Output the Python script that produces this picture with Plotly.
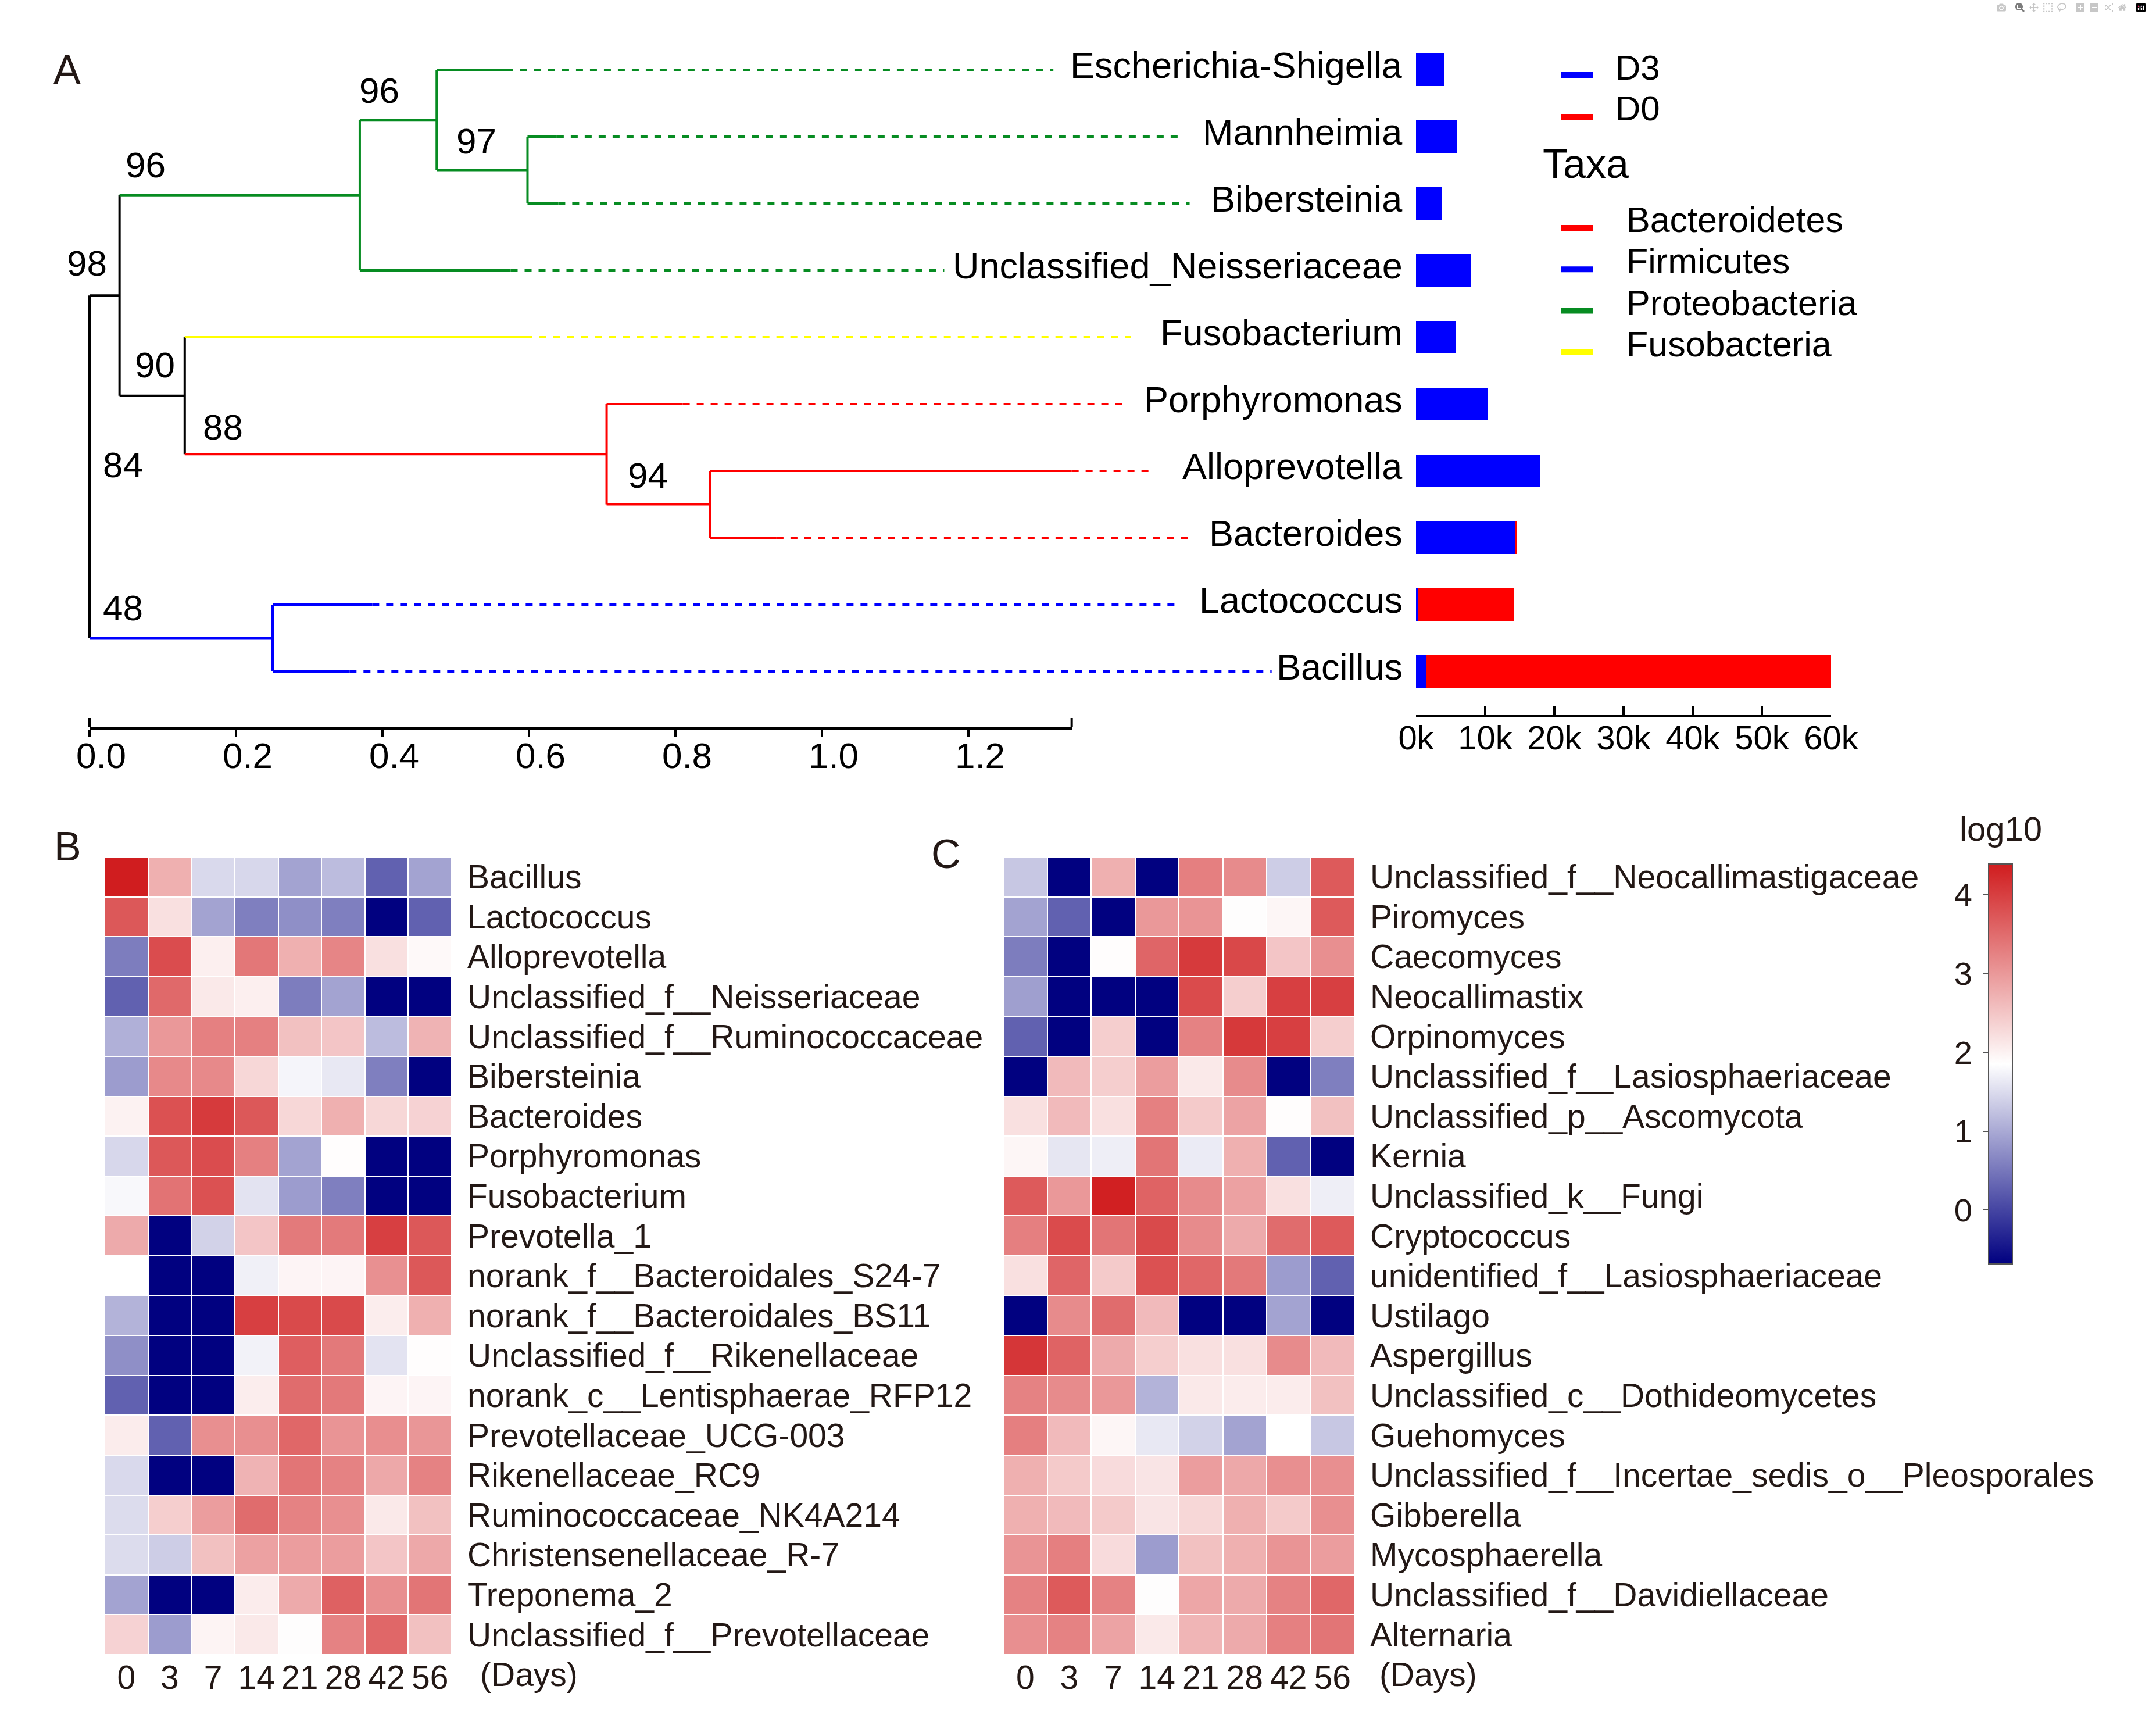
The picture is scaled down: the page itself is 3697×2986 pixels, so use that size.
import plotly.graph_objects as go

W, H = 3697, 2986
FONT = "Arial, 'Liberation Sans', Helvetica, sans-serif"
TXT = "#231815"

# ---------------- Panel A data ----------------
leaf_names = ["Escherichia-Shigella", "Mannheimia", "Bibersteinia", "Unclassified_Neisseriaceae",
              "Fusobacterium", "Porphyromonas", "Alloprevotella", "Bacteroides",
              "Lactococcus", "Bacillus"]
leaf_parent = ["n3", "n4", "n4", "n2", "n5", "n6", "n7", "n7", "n8", "n8"]
leaf_phylum = ["Proteobacteria", "Proteobacteria", "Proteobacteria", "Proteobacteria",
               "Fusobacteria", "Bacteroidetes", "Bacteroidetes", "Bacteroidetes",
               "Firmicutes", "Firmicutes"]
leaf_branch_end = [0.569, 0.638, 0.640, 0.575, 0.595, 0.810, 1.341, 0.938, 0.386, 0.355]
leaf_guide_end = [1.316, 1.490, 1.502, 1.167, 1.422, 1.415, 1.453, 1.502, 1.484, 1.614]

node_names = ["root", "n1", "n2", "n3", "n4", "n5", "n6", "n7", "n8"]
node_parent = [None, "root", "n1", "n2", "n3", "n1", "n5", "n6", "root"]
node_depth = [0.0, 0.041, 0.369, 0.474, 0.598, 0.130, 0.706, 0.847, 0.250]
node_group = ["none", "none", "Proteobacteria", "Proteobacteria", "Proteobacteria",
              "none", "Bacteroidetes", "Bacteroidetes", "Firmicutes"]
node_support = [84, 98, 96, 96, 97, 90, 88, 94, 48]

tree_scale_max = 1.341
tree_ticks = [0.0, 0.2, 0.4, 0.6, 0.8, 1.0, 1.2]

abund_d3 = [4100, 5900, 3800, 8000, 5800, 10400, 18000, 14400, 250, 1400]
abund_d0 = [0, 0, 0, 0, 0, 0, 0, 150, 13850, 58600]
bar_ticks = [0, 10000, 20000, 30000, 40000, 50000, 60000]
bar_ticktext = ["0k", "10k", "20k", "30k", "40k", "50k", "60k"]

phyla = ["Bacteroidetes", "Firmicutes", "Proteobacteria", "Fusobacteria"]

# ---------------- Panels B / C data ----------------
days = ["0", "3", "7", "14", "21", "28", "42", "56"]

bact_taxa = ["Bacillus", "Lactococcus", "Alloprevotella", "Unclassified_f__Neisseriaceae",
             "Unclassified_f__Ruminococcaceae", "Bibersteinia", "Bacteroides", "Porphyromonas",
             "Fusobacterium", "Prevotella_1", "norank_f__Bacteroidales_S24-7",
             "norank_f__Bacteroidales_BS11", "Unclassified_f__Rikenellaceae",
             "norank_c__Lentisphaerae_RFP12", "Prevotellaceae_UCG-003", "Rikenellaceae_RC9",
             "Ruminococcaceae_NK4A214", "Christensenellaceae_R-7", "Treponema_2",
             "Unclassified_f__Prevotellaceae"]
bact_log10 = [
    [4.38, 2.74, 1.47, 1.45, 0.94, 1.19, 0.28, 0.94],
    [3.72, 2.20, 0.94, 0.58, 0.74, 0.58, -0.68, 0.28],
    [0.56, 3.85, 2.03, 3.37, 2.74, 3.22, 2.20, 1.92],
    [0.28, 3.53, 2.10, 2.03, 0.56, 0.94, -0.68, -0.68],
    [1.07, 3.00, 3.27, 3.27, 2.55, 2.50, 1.19, 2.70],
    [0.87, 3.17, 3.17, 2.30, 1.75, 1.62, 0.58, -0.68],
    [2.00, 3.80, 4.05, 3.72, 2.30, 2.74, 2.30, 2.35],
    [1.45, 3.72, 3.85, 3.27, 0.94, 1.87, -0.68, -0.68],
    [1.78, 3.42, 3.80, 1.57, 0.87, 0.58, -0.68, -0.68],
    [2.80, -0.68, 1.40, 2.50, 3.34, 3.34, 4.00, 3.72],
    [1.85, -0.68, -0.68, 1.70, 1.97, 1.97, 3.09, 3.72],
    [1.10, -0.68, -0.68, 4.00, 3.88, 3.88, 2.05, 2.74],
    [0.74, -0.68, -0.68, 1.72, 3.65, 3.35, 1.57, 1.87],
    [0.28, -0.68, -0.68, 2.05, 3.50, 3.35, 1.97, 1.97],
    [2.07, 0.28, 3.10, 3.10, 3.55, 3.05, 3.12, 3.03],
    [1.47, -0.68, -0.68, 2.70, 3.40, 3.25, 2.82, 3.25],
    [1.50, 2.40, 2.95, 3.50, 3.25, 3.10, 2.10, 2.55],
    [1.50, 1.35, 2.55, 2.90, 2.95, 2.95, 2.50, 2.82],
    [0.94, -0.68, -0.68, 2.07, 2.80, 3.62, 3.10, 3.40],
    [2.35, 0.87, 1.98, 2.10, 1.88, 3.25, 3.55, 2.55],
]

fungi_taxa = ["Unclassified_f__Neocallimastigaceae", "Piromyces", "Caecomyces", "Neocallimastix",
              "Orpinomyces", "Unclassified_f__Lasiosphaeriaceae", "Unclassified_p__Ascomycota",
              "Kernia", "Unclassified_k__Fungi", "Cryptococcus", "unidentified_f__Lasiosphaeriaceae",
              "Ustilago", "Aspergillus", "Unclassified_c__Dothideomycetes", "Guehomyces",
              "Unclassified_f__Incertae_sedis_o__Pleosporales", "Gibberella", "Mycosphaerella",
              "Unclassified_f__Davidiellaceae", "Alternaria"]
fungi_log10 = [
    [1.30, -0.68, 2.74, -0.68, 3.28, 3.15, 1.35, 3.70],
    [0.94, 0.28, -0.68, 3.00, 3.05, 1.88, 1.95, 3.70],
    [0.56, -0.68, 1.87, 3.57, 4.05, 3.90, 2.50, 3.10],
    [0.90, -0.68, -0.68, -0.68, 3.87, 2.40, 4.00, 4.00],
    [0.28, -0.68, 2.40, -0.68, 3.25, 4.07, 4.00, 2.40],
    [-0.68, 2.62, 2.40, 2.95, 2.10, 3.15, -0.68, 0.58],
    [2.20, 2.62, 2.20, 3.27, 2.45, 2.88, 1.87, 2.55],
    [1.95, 1.60, 1.68, 3.40, 1.65, 2.74, 0.28, -0.68],
    [3.70, 3.00, 4.35, 3.60, 3.15, 2.90, 2.20, 1.68],
    [3.28, 3.87, 3.40, 3.88, 3.15, 2.80, 3.50, 3.70],
    [2.20, 3.57, 2.45, 3.80, 3.55, 3.35, 0.87, 0.28],
    [-0.68, 3.15, 3.50, 2.62, -0.68, -0.68, 0.94, -0.68],
    [4.10, 3.60, 2.80, 2.40, 2.20, 2.20, 3.15, 2.62],
    [3.25, 3.15, 3.00, 1.10, 2.10, 2.07, 2.07, 2.55],
    [3.28, 2.62, 1.95, 1.62, 1.40, 0.94, 1.85, 1.30],
    [2.74, 2.45, 2.25, 2.15, 2.95, 2.82, 3.10, 3.10],
    [2.74, 2.62, 2.45, 2.15, 2.30, 2.74, 2.45, 3.10],
    [3.05, 3.28, 2.25, 0.87, 2.55, 2.74, 3.05, 2.95],
    [3.25, 3.70, 3.25, 1.88, 2.85, 2.80, 3.25, 3.55],
    [3.10, 3.25, 2.88, 2.10, 2.68, 2.80, 3.27, 3.40],
]
scale_min, scale_max = -0.685, 4.39
scale_ticks = [0, 1, 2, 3, 4]

# ---------------- styles / layout geometry ----------------
group_color = {"Proteobacteria": "#078c22", "Bacteroidetes": "#ff0000",
               "Firmicutes": "#0000ff", "Fusobacteria": "#ffff00", "none": "#000000"}
D3_COLOR, D0_COLOR = "#0000ff", "#ff0000"


def fx(p):
    return p / W


def fy(p):
    return 1 - p / H


TREE_X0, TREE_PPU, TREE_XMIN, TREE_XMAX = 154, 1260, -0.03, 1.80
ROW0, ROWH = 120, 115
TREE_TOP, TREE_AXIS_PX = 5, 1251
BAR_X0, BAR_X1, BAR_AXIS_PX = 2436, 3150, 1230
HM_TOP, HM_BOT = 1474, 2846
HMB_X = (180, 777)
HMC_X = (1726, 2330)
CB_X, CB_W, CB_TOP, CB_BOT = 3421, 41, 1486, 2174


def tree_px(v):
    return TREE_X0 + v * TREE_PPU


# ---------------- tree geometry from structure ----------------
children = {n: [] for n in node_names}
for i, p in enumerate(leaf_parent):
    children[p].append(("leaf", i))
for n, p in zip(node_names, node_parent):
    if p is not None:
        children[p].append(("node", n))
depth = dict(zip(node_names, node_depth))
ycache = {}


def node_y(kind, key):
    if kind == "leaf":
        return float(key)
    if key in ycache:
        return ycache[key]
    ys = [node_y(k, c) for k, c in children[key]]
    ycache[key] = (min(ys) + max(ys)) / 2
    return ycache[key]


seg_solid = {}
seg_dash = {}


def add(store, col, xs, ys):
    d = store.setdefault(col, ([], []))
    d[0].extend(list(xs) + [None])
    d[1].extend(list(ys) + [None])


for n, p, g in zip(node_names, node_parent, node_group):
    yn = node_y("node", n)
    col = group_color[g]
    if p is not None:
        add(seg_solid, col, [depth[p], depth[n]], [yn, yn])
    ys = [node_y(k, c) for k, c in children[n]]
    add(seg_solid, col, [depth[n], depth[n]], [min(ys), max(ys)])

for i in range(len(leaf_names)):
    col = group_color[leaf_phylum[i]]
    add(seg_solid, col, [depth[leaf_parent[i]], leaf_branch_end[i]], [i, i])
    add(seg_dash, col, [leaf_branch_end[i], leaf_guide_end[i]], [i, i])

fig = go.Figure()
# scale axis anchor trace (drawn first)
fig.add_trace(go.Scatter(x=[0, tree_scale_max], y=[None, None], mode="lines",
                         xaxis="x2", yaxis="y", showlegend=False, hoverinfo="skip"))
for col, (xs, ys) in seg_solid.items():
    fig.add_trace(go.Scatter(x=xs, y=ys, mode="lines", line=dict(color=col, width=4),
                             xaxis="x", yaxis="y", showlegend=False, hoverinfo="skip"))
for col, (xs, ys) in seg_dash.items():
    fig.add_trace(go.Scatter(x=xs, y=ys, mode="lines",
                             line=dict(color=col, width=4, dash="12px,12px"),
                             xaxis="x", yaxis="y", showlegend=False, hoverinfo="skip"))

# bars
rows = list(range(len(leaf_names)))
fig.add_trace(go.Bar(y=rows, x=abund_d3, orientation="h", marker=dict(color=D3_COLOR, line=dict(width=0)),
                     width=0.49, xaxis="x3", yaxis="y3", showlegend=False, name="D3"))
fig.add_trace(go.Bar(y=rows, x=abund_d0, orientation="h", marker=dict(color=D0_COLOR, line=dict(width=0)),
                     width=0.49, xaxis="x3", yaxis="y3", showlegend=False, name="D0"))

# heatmaps
fig.add_trace(go.Heatmap(z=bact_log10, x=days, y=bact_taxa, coloraxis="coloraxis",
                         xgap=2, ygap=2, xaxis="x4", yaxis="y4"))
fig.add_trace(go.Heatmap(z=fungi_log10, x=days, y=fungi_taxa, coloraxis="coloraxis",
                         xgap=2, ygap=2, xaxis="x5", yaxis="y5"))
# colorbar tick axis anchor trace
fig.add_trace(go.Scatter(x=[None], y=[None], mode="lines", xaxis="x6", yaxis="y6",
                         showlegend=False, hoverinfo="skip"))

tree_y_range = [(TREE_AXIS_PX - ROW0) / ROWH, (TREE_TOP - ROW0) / ROWH]
bar_y_range = [(BAR_AXIS_PX - ROW0) / ROWH, (TREE_TOP - ROW0) / ROWH]

hidden = dict(visible=False, showgrid=False, zeroline=False)
hm_y_common = dict(side="right", autorange="reversed", type="category", ticks="",
                   showgrid=False, zeroline=False, showline=False, automargin=False,
                   tickfont=dict(family=FONT, size=57, color=TXT), ticklabelstandoff=26,
                   domain=[fy(HM_BOT), fy(HM_TOP)])
hm_x_common = dict(type="category", ticks="", showgrid=False, zeroline=False, showline=False,
                   automargin=False,
                   tickfont=dict(family=FONT, size=57, color=TXT), ticklabelstandoff=1)

fig.update_layout(
    width=W, height=H, margin=dict(l=0, r=0, t=0, b=0, autoexpand=False),
    paper_bgcolor="white", plot_bgcolor="rgba(0,0,0,0)",
    barmode="stack", showlegend=False,
    font=dict(family=FONT, color="black"),
    xaxis=dict(domain=[fx(tree_px(TREE_XMIN)), fx(tree_px(TREE_XMAX))],
               range=[TREE_XMIN, TREE_XMAX], anchor="y", **hidden),
    yaxis=dict(domain=[fy(TREE_AXIS_PX), fy(TREE_TOP)], range=tree_y_range, anchor="x", **hidden),
    xaxis2=dict(domain=[fx(tree_px(0)), fx(tree_px(tree_scale_max))],
                range=[0, tree_scale_max], anchor="y", showline=True, linewidth=4,
                linecolor="black", ticks="outside", ticklen=13, tickwidth=4, tickcolor="black",
                tickvals=tree_ticks, ticktext=["%.1f" % t for t in tree_ticks],
                tickfont=dict(family=FONT, size=62, color="black"), automargin=False,
                showgrid=False, zeroline=False, ticklabelshift=20, ticklabelstandoff=-21),
    xaxis3=dict(domain=[fx(BAR_X0), fx(BAR_X1)], range=[0, bar_ticks[-1]], anchor="y3",
                showline=True, linewidth=4, linecolor="black", ticks="inside", ticklen=16,
                tickwidth=4, tickcolor="black", tickvals=bar_ticks, ticktext=bar_ticktext,
                tickfont=dict(family=FONT, size=58, color="black"), automargin=False,
                showgrid=False, zeroline=False, ticklabelstandoff=-15),
    yaxis3=dict(domain=[fy(BAR_AXIS_PX), fy(TREE_TOP)], range=bar_y_range, anchor="x3", **hidden),
    xaxis4=dict(domain=[fx(HMB_X[0]), fx(HMB_X[1])], anchor="y4", **hm_x_common),
    yaxis4=dict(anchor="x4", **hm_y_common),
    xaxis5=dict(domain=[fx(HMC_X[0]), fx(HMC_X[1])], anchor="y5", **hm_x_common),
    yaxis5=dict(anchor="x5", **hm_y_common),
    xaxis6=dict(domain=[fx(CB_X), fx(CB_X + CB_W)], range=[0, 1], anchor="y6", **hidden),
    yaxis6=dict(domain=[fy(CB_BOT), fy(CB_TOP)], range=[scale_min, scale_max], anchor="x6",
                side="left", ticks="outside", ticklen=8, tickwidth=2, tickcolor="#555555",
                tickvals=scale_ticks, tickfont=dict(family=FONT, size=56, color=TXT),
                automargin=False,
                showgrid=False, zeroline=False, showline=False, ticklabelstandoff=8),
    coloraxis=dict(
        colorscale=[[0, "rgb(0,0,128)"], [0.5, "rgb(255,255,255)"], [1, "rgb(208,28,30)"]],
        cmin=scale_min, cmax=scale_max,
        colorbar=dict(x=fx(CB_X), xanchor="left", xpad=0, thickness=CB_W,
                      y=fy(CB_TOP), yanchor="top", len=(CB_BOT - CB_TOP) / H, lenmode="fraction",
                      ypad=0, outlinewidth=2, outlinecolor="#555555",
                      showticklabels=False, ticks=""),
    ),
)

ann = []
# leaf labels
for i, name in enumerate(leaf_names):
    ann.append(dict(x=1.794, y=i, xref="x", yref="y", text=name, showarrow=False,
                    xanchor="right", yanchor="middle", yshift=8, borderpad=0,
                    font=dict(family=FONT, size=63, color="black")))
# bootstrap labels (pixel positions of label centres)
support_pos = {"root": (211, 800), "n1": (149, 452), "n2": (250, 284), "n3": (652, 156),
               "n4": (819, 242), "n5": (266, 628), "n6": (383, 734), "n7": (1114, 817),
               "n8": (211, 1045)}
for n, s in zip(node_names, node_support):
    px, py = support_pos[n]
    ann.append(dict(x=fx(px), y=fy(py), xref="paper", yref="paper", text=str(s), showarrow=False,
                    xanchor="center", yanchor="middle", borderpad=0,
                    font=dict(family=FONT, size=62, color="black")))
# panel letters
for letter, (px, py) in zip(["A", "B", "C"], [(115, 120), (116, 1456), (1627, 1469)]):
    ann.append(dict(x=fx(px), y=fy(py), xref="paper", yref="paper", text=letter, showarrow=False,
                    xanchor="center", yanchor="middle", borderpad=0,
                    font=dict(family=FONT, size=70, color=TXT)))
# (Days)
for px in (825, 2372):
    ann.append(dict(x=fx(px), y=fy(2880), xref="paper", yref="paper", text="(Days)",
                    showarrow=False, xanchor="left", yanchor="middle", borderpad=0,
                    font=dict(family=FONT, size=57, color=TXT)))
# colorbar title
ann.append(dict(x=fx(CB_X + CB_W / 2), y=fy(1425), xref="paper", yref="paper", text="log10",
                showarrow=False, xanchor="center", yanchor="middle", borderpad=0,
                font=dict(family=FONT, size=58, color=TXT)))

shapes = []
# legend D3 / D0
for name, col, ly, ty in [("D3", D3_COLOR, 129, 116), ("D0", D0_COLOR, 201, 187)]:
    shapes.append(dict(type="line", xref="paper", yref="paper", x0=fx(2686), x1=fx(2740),
                       y0=fy(ly), y1=fy(ly), line=dict(color=col, width=10)))
    ann.append(dict(x=fx(2778), y=fy(ty), xref="paper", yref="paper", text=name, showarrow=False,
                    xanchor="left", yanchor="middle", borderpad=0,
                    font=dict(family=FONT, size=60, color="black")))
ann.append(dict(x=fx(2653), y=fy(282), xref="paper", yref="paper", text="Taxa", showarrow=False,
                xanchor="left", yanchor="middle", borderpad=0,
                font=dict(family=FONT, size=70, color="black")))
for k, ph in enumerate(phyla):
    ly = 392 + 71.3 * k
    shapes.append(dict(type="line", xref="paper", yref="paper", x0=fx(2686), x1=fx(2740),
                       y0=fy(ly), y1=fy(ly), line=dict(color=group_color[ph], width=10)))
    ann.append(dict(x=fx(2797), y=fy(ly - 14), xref="paper", yref="paper", text=ph, showarrow=False,
                    xanchor="left", yanchor="middle", borderpad=0,
                    font=dict(family=FONT, size=61, color="black")))
# end ticks of the tree scale (pointing up)
for xv in (0, tree_scale_max):
    shapes.append(dict(type="line", xref="paper", yref="paper", x0=fx(tree_px(xv)), x1=fx(tree_px(xv)),
                       y0=fy(TREE_AXIS_PX), y1=fy(TREE_AXIS_PX - 16),
                       line=dict(color="black", width=4)))

fig.update_layout(annotations=ann, shapes=shapes)
fig.write_html("out.html", post_script="document.body.style.margin='0';")
